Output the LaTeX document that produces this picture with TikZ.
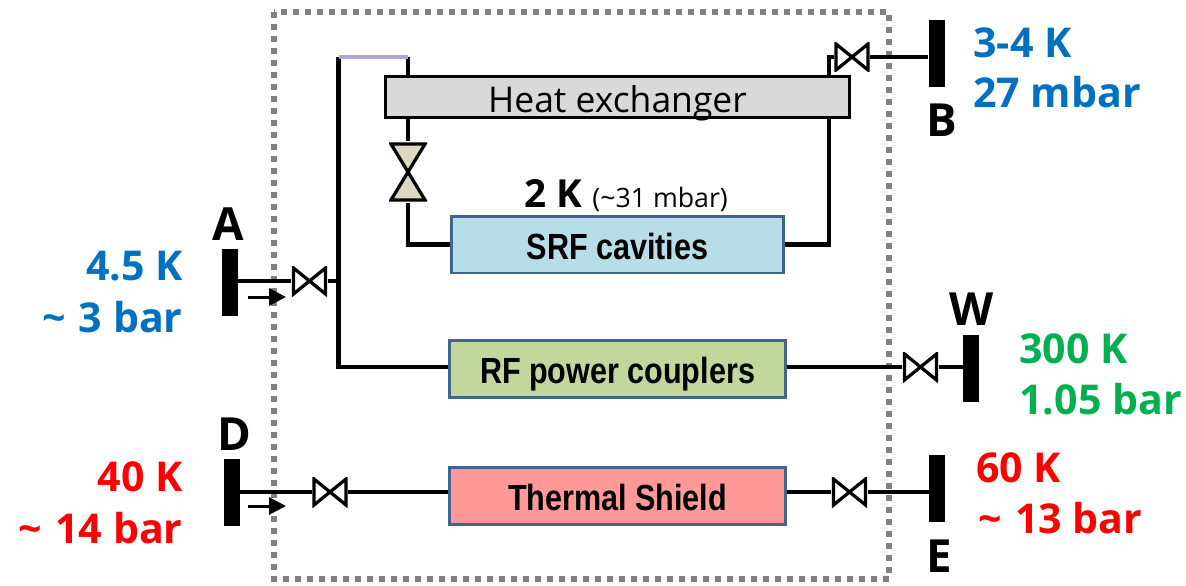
\documentclass[tikz,border=0pt]{standalone}
\usepackage{fontspec}
\setmainfont{Open Sans}
\newfontfamily\narrowfont[FakeStretch=0.84]{Liberation Sans}
\usetikzlibrary{arrows.meta}
\definecolor{coldblue}{HTML}{0070C0}
\definecolor{warmgreen}{HTML}{00B050}
\definecolor{boxedge}{HTML}{41658F}
\definecolor{hxgray}{HTML}{D9D9D9}
\definecolor{srfblue}{HTML}{B7DDE8}
\definecolor{rfgreen}{HTML}{C3D69B}
\definecolor{shieldred}{HTML}{FF9999}
\definecolor{jtbeige}{HTML}{DDD9C3}
\definecolor{topviolet}{HTML}{B4A7D6}
\tikzset{
    pipe/.style={line width=0.09cm, black},
    flow/.style={line width=0.06cm, -{Triangle[length=0.34cm,width=0.34cm]}},
    port/.style={fill=black, inner sep=0, minimum width=0.32cm, minimum height=1.34cm},
    portname/.style={anchor=base west, inner sep=0, font=\fontsize{26}{26}\selectfont\bfseries},
    state/.style={inner sep=0, font=\fontsize{23.4}{26}\selectfont\bfseries},
    unit/.style={draw=boxedge, line width=0.06cm, inner sep=0, minimum height=1.14cm, minimum width=6.72cm,
        text height=0.58cm, text depth=0pt, font=\narrowfont\fontsize{20.7}{22}\selectfont\bfseries},
    valve/.style={inner sep=0, minimum width=0.72cm, minimum height=0.6cm, path picture={
        \draw[line width=0.065cm, fill=white, shift={(path picture bounding box.center)}]
            (-16,-13) -- (16,13) -- (16,-13) -- (-16,13) -- cycle;}},
    jtvalve/.style={inner sep=0, minimum width=0.76cm, minimum height=1.22cm, path picture={
        \draw[line width=0.065cm, fill=jtbeige, shift={(path picture bounding box.center)}]
            (-17,-28) -- (17,-28) -- (-17,28) -- (17,28) -- cycle;}},
}
\begin{document}
\begin{tikzpicture}[x=0.02cm, y=-0.02cm]
    \useasboundingbox (0,0) rectangle (1186,585);

    % Cold box
    \draw[black!50, line width=0.12cm, dash pattern=on 0.12cm off 0.12cm] (274,12) rectangle (889,579);

    % Units
    \node[draw=black, fill=hxgray, line width=0.06cm, inner sep=0, minimum width=9.3cm, minimum height=0.84cm,
        text height=0.6cm, text depth=0pt, font=\fontsize{20.2}{24}\selectfont] (hx) at (617.5,97) {Heat exchanger};
    \node[unit, fill=srfblue, minimum width=6.66cm] (srf) at (617.5,244.5) {SRF cavities};
    \node[unit, fill=rfgreen] (rf) at (617.5,368.5) {RF power couplers};
    \node[unit, fill=shieldred] (shield) at (617.5,496) {Thermal Shield};

    % End boxes
    \node[port] (portA) at (229.5,282.5) {};
    \node[port] (portB) at (936.5,53.5) {};
    \node[port] (portW) at (971,368) {};
    \node[port] (portD) at (232,492.5) {};
    \node[port] (portE) at (937,488) {};

    % Valves
    \node[valve] (valveA) at (309.5,281) {};
    \node[valve] (valveB) at (852,57) {};
    \node[valve] (valveW) at (920.5,367) {};
    \node[valve] (valveD) at (330,492) {};
    \node[valve] (valveE) at (849.5,492) {};
    \node[jtvalve] (valveJT) at (408,172) {};

    % Corners of the pipes
    \coordinate (topL) at (338.5,57);
    \coordinate (topR) at (408,57);
    \coordinate (botL) at (338.5,367);
    \coordinate (jointA) at (338.5,282);
    \coordinate (riseR) at (829,118);
    \coordinate (riseT) at (829,57);

    % Helium lines
    \draw[pipe] (valveA.west -| portA.east) -- (valveA.west);
    \draw[pipe] (valveA.east) -- (valveA.east -| jointA);
    \draw[pipe] (topL) -- (botL) -- (botL -| rf.west);
    \draw[pipe] (topR) -- (topR |- hx.north);
    \draw[pipe] (topR |- hx.south) -- (valveJT.north);
    \draw[pipe] (valveJT.south) |- (srf.west);
    \draw[pipe] (srf.east) -| (riseR);
    \draw[pipe] (riseT |- hx.north) -- (riseT) -- (valveB.west);
    \draw[pipe] (valveB.east) -- (valveB.east -| portB.west);
    \draw[pipe] (botL -| rf.east) -- (valveW.west);
    \draw[pipe] (valveW.east) -- (valveW.east -| portW.west);
    \draw[pipe] (valveD.west -| portD.east) -- (valveD.west);
    \draw[pipe] (valveD.east) -- (valveD.east -| shield.west);
    \draw[pipe] (valveE.west -| shield.east) -- (valveE.west);
    \draw[pipe] (valveE.east) -- (valveE.east -| portE.west);
    \draw[line width=0.08cm, topviolet] (topL) -- (topR);

    % Flow direction
    \coordinate (flowA) at (248,297);
    \coordinate (flowAend) at (286,297);
    \coordinate (flowD) at (248,506);
    \coordinate (flowDend) at (286,506);
    \draw[flow] (flowA) -- (flowAend);
    \draw[flow] (flowD) -- (flowDend);

    % Port names
    \node[portname] (nameA) at (212,240) {A};
    \node[portname] (nameB) at (926,136) {B};
    \node[portname] (nameW) at (949,325) {W};
    \node[portname] (nameD) at (217,450) {D};
    \node[portname] (nameE) at (926,572) {E};

    % States
    \node[state, anchor=base east, text=coldblue] (stateA1) at (183,280) {4.5 K};
    \node[state, anchor=base east, text=coldblue] (stateA2) at (183,332) {\textasciitilde{}\hspace{1.5pt} 3 bar};
    \node[state, anchor=base west, text=coldblue] (stateB1) at (973,57) {3-4 K};
    \node[state, anchor=base west, text=coldblue] (stateB2) at (973,107) {27 mbar};
    \node[state, anchor=base west, text=warmgreen] (stateW1) at (1019,363) {300 K};
    \node[state, anchor=base west, text=warmgreen] (stateW2) at (1019,414) {1.05 bar};
    \node[state, anchor=base east, text=red] (stateD1) at (183,491) {40 K};
    \node[state, anchor=base east, text=red] (stateD2) at (183,543) {\textasciitilde{}\hspace{1.5pt} 14 bar};
    \node[state, anchor=base west, text=red] (stateE1) at (976,482) {60 K};
    \node[state, anchor=base west, text=red] (stateE2) at (978,533) {\textasciitilde{}\hspace{1.5pt} 13 bar};
    \node[anchor=base west, inner sep=0, font=\fontsize{22}{26}\selectfont\bfseries] (temp) at (524,207) {2 K};
    \node[anchor=base west, inner sep=0, font=\fontsize{15.2}{18}\selectfont] (press) at (592,207) {(\textasciitilde31 mbar)};
\end{tikzpicture}
\end{document}
